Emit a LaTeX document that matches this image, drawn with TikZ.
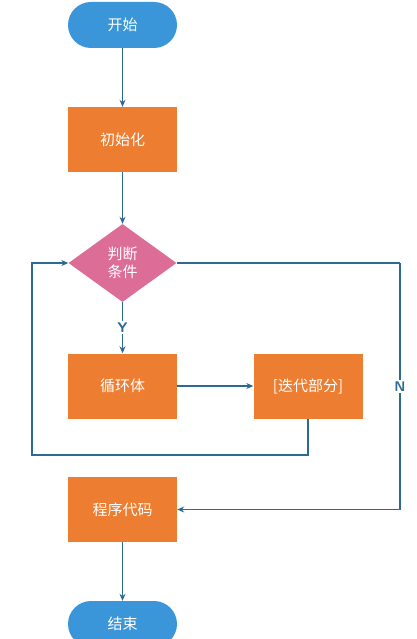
\documentclass[tikz,border=0pt]{standalone}
\usepackage{fontspec}
\newfontfamily\cjk{Noto Sans CJK SC}
\usetikzlibrary{shapes.geometric}
\usetikzlibrary{arrows.meta}
\definecolor{termblue}{HTML}{3A96D8}
\definecolor{boxorange}{HTML}{ED7D31}
\definecolor{condpink}{HTML}{DC6D96}
\definecolor{flowline}{HTML}{2C6A94}

\begin{document}
\begin{tikzpicture}[x=1pt,y=-1pt,inner sep=0pt,
  txt/.style={text=white,font=\cjk\fontsize{15}{19}\selectfont},
  term/.style={txt,fill=termblue,rounded corners=23pt,minimum width=109pt,minimum height=46pt},
  box/.style={txt,fill=boxorange,minimum width=109pt,minimum height=65pt},
  cond/.style={txt,fill=condpink,diamond,aspect=1.385,minimum width=108pt,minimum height=78pt,align=center},
  flow/.style={draw=flowline,line width=1.1pt,-{Stealth[length=7pt,width=6pt]}},
  lbl/.style={fill=white,text=flowline,inner sep=1.5pt,font=\sffamily\bfseries\fontsize{14}{16}\selectfont}]
\useasboundingbox (0,0) rectangle (417,639);
\clip (0,0) rectangle (417,639);
\def\cx{122.5}
\node[term] (start) at (\cx, 25) {开始};
\node[box] (init) at (\cx, 139.5) {初始化};
\node[cond] (test) at (\cx, 263) {判断\\[-1pt]条件};
\node[box] (body) at (\cx, 386) {循环体};
\node[box] (iter) at (308, 386) {[迭代部分]};
\node[box] (code) at (\cx, 509.5) {程序代码};
\node[term] (stop) at (\cx, 624) {结束};
\coordinate (back) at (32, 455);
\coordinate (nturn) at (400, 263);

\draw[flow] (start) -- (init);
\draw[flow] (init) -- (test);
\draw[flow] (test) -- node[lbl] {Y} (body);
\draw[flow] (body) -- (iter);
\draw[flow] (iter.south) |- (back) |- (test.west);
\draw[draw=flowline,line width=1.1pt] (test.east) -- (nturn);
\draw[flow] (nturn) |- node[lbl,pos=0.25] {N} (code.east);
\draw[flow] (code) -- (stop);
\end{tikzpicture}
\end{document}
